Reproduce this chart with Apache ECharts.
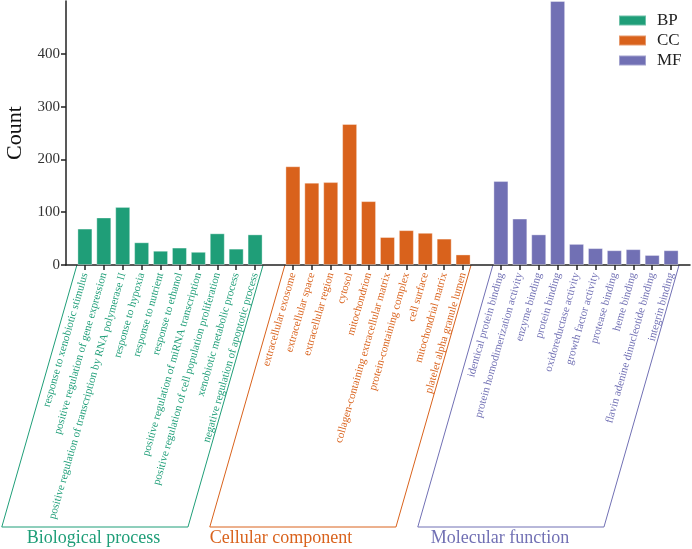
<!DOCTYPE html>
<html>
<head>
<meta charset="utf-8">
<script src="https://cdn.jsdelivr.net/npm/echarts@6/dist/echarts.min.js"></script>
<style>
  html, body { margin: 0; padding: 0; background: #fff; }
  #chart { width: 692px; height: 549px; }
</style>
</head>
<body>
<div id="chart"></div>
<script>
/* 数据 */
var bpTerms = [
  'response to xenobiotic stimulus',
  'positive regulation of gene expression',
  'positive regulation of transcription by RNA polymerase II',
  'response to hypoxia',
  'response to nutrient',
  'response to ethanol',
  'positive regulation of miRNA transcription',
  'positive regulation of cell population proliferation',
  'xenobiotic metabolic process',
  'negative regulation of apoptotic process'
];
var ccTerms = [
  'extracellular exosome',
  'extracellular space',
  'extracellular region',
  'cytosol',
  'mitochondrion',
  'collagen-containing extracellular matrix',
  'protein-containing complex',
  'cell surface',
  'mitochondrial matrix',
  'platelet alpha granule lumen'
];
var mfTerms = [
  'identical protein binding',
  'protein homodimerization activity',
  'enzyme binding',
  'protein binding',
  'oxidoreductase activity',
  'growth factor activity',
  'protease binding',
  'heme binding',
  'flavin adenine dinucleotide binding',
  'integrin binding'
];
var bpCounts = [69, 90, 110, 43, 27, 33, 25, 60, 31, 58];
var ccCounts = [187, 156, 157, 267, 121, 53, 66, 61, 50, 20];
var mfCounts = [159, 88, 58, 500, 40, 32, 28, 30, 19, 28];
var groupNames = ['BP', 'CC', 'MF'];
var groupTitles = ['Biological process', 'Cellular component', 'Molecular function'];
var yTicks = [0, 100, 200, 300, 400];

var colors = ['#1f9e78', '#d9621c', '#7170b4'];
var serif = '"Liberation Serif", "Times New Roman", serif';

// 类目轴：每组之间留一个空位，两端各留一个空位
var categories = [''].concat(bpTerms, [''], ccTerms, [''], mfTerms, ['']);
var groupStart = [1, 12, 23];
var groupLists = [bpCounts, ccCounts, mfCounts];

function groupOf(idx) {
  for (var g = 2; g >= 0; g--) {
    if (idx >= groupStart[g]) return g;
  }
  return 0;
}

function padData(values, start) {
  var arr = [];
  for (var i = 0; i < categories.length; i++) arr.push('-');
  for (var j = 0; j < values.length; j++) arr[start + j] = values[j];
  return arr;
}

var chart = echarts.init(document.getElementById('chart'));

var series = [];
for (var g = 0; g < 3; g++) {
  series.push({
    name: groupNames[g],
    type: 'bar',
    barWidth: 15,
    barGap: '-100%',
    data: padData(groupLists[g], groupStart[g]),
    itemStyle: {
      color: colors[g],
      borderColor: 'rgba(255,255,255,0.35)',
      borderWidth: 1
    }
  });
}

var option = {
  animation: false,
  grid: { left: 66, right: 2, top: 1, height: 264, containLabel: false, outerBoundsMode: 'none' },
  legend: {
    data: groupNames,
    orient: 'vertical',
    left: 613,
    top: 7,
    icon: 'rect',
    itemWidth: 27,
    itemHeight: 10,
    itemGap: 3,
    textStyle: { fontFamily: serif, fontSize: 17, color: '#222', lineHeight: 16, padding: [0, 0, 0, 6] }
  },
  xAxis: {
    type: 'category',
    data: categories,
    boundaryGap: false,
    axisLine: { lineStyle: { color: '#222', width: 1.5 } },
    axisTick: {
      length: 5,
      lineStyle: { color: '#222', width: 1.5 },
      interval: function (idx, val) { return val !== ''; }
    },
    axisLabel: {
      interval: 0,
      rotate: 74,
      margin: 8,
      fontFamily: serif,
      fontSize: 11,
      color: function (val, idx) { return colors[groupOf(idx)]; }
    }
  },
  yAxis: {
    type: 'value',
    min: 0,
    max: 500,
    name: 'Count',
    nameLocation: 'middle',
    nameGap: 40,
    nameTextStyle: { fontFamily: serif, fontSize: 22, color: '#111' },
    splitLine: { show: false },
    axisLine: { show: true, lineStyle: { color: '#222', width: 1.5 } },
    axisTick: { show: true, length: 5, customValues: yTicks, lineStyle: { color: '#222', width: 1.5 } },
    axisLabel: { customValues: yTicks, fontFamily: serif, fontSize: 15, color: '#333', margin: 6 }
  },
  series: series
};
chart.setOption(option);

/* 分组框和分组标题，位置由坐标轴换算 */
var y0 = chart.convertToPixel({ yAxisIndex: 0 }, 0);
var yBottom = 527;
var slant = (yBottom - y0) / Math.tan(74 * Math.PI / 180);
var titleOffset = [25, 0, 13];
var graphics = [];
for (var k = 0; k < 3; k++) {
  var xa = chart.convertToPixel({ xAxisIndex: 0 }, groupStart[k]) - 8;
  var xb = chart.convertToPixel({ xAxisIndex: 0 }, groupStart[k] + 9) + 8;
  graphics.push({
    type: 'polyline',
    silent: true,
    shape: { points: [[xa, y0], [xa - slant, yBottom], [xb - slant, yBottom], [xb, y0]] },
    style: { fill: null, stroke: colors[k], lineWidth: 1 }
  });
  graphics.push({
    type: 'text',
    silent: true,
    x: xa - slant + titleOffset[k],
    y: 538,
    style: {
      text: groupTitles[k],
      font: '18px ' + serif,
      fill: colors[k],
      verticalAlign: 'middle'
    }
  });
}
chart.setOption({ graphic: graphics });
</script>
</body>
</html>
